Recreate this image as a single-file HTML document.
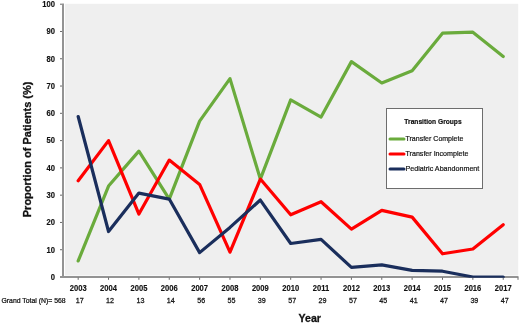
<!DOCTYPE html>
<html><head><meta charset="utf-8"><style>
html,body{margin:0;padding:0;background:#fff;}
body{width:520px;height:323px;overflow:hidden;}
svg{display:block;will-change:transform;}
</style></head><body>
<svg width="520" height="323" viewBox="0 0 520 323">
<rect x="0" y="0" width="520" height="323" fill="#fff"/>
<rect x="65.0" y="3.8" width="453.20000000000005" height="271.7" fill="#efefef"/>

<line x1="63" y1="3.5" x2="63" y2="277.8" stroke="#939393" stroke-width="2"/>
<line x1="60" y1="277.00" x2="62" y2="277.00" stroke="#6a6a6a" stroke-width="1"/>
<text transform="translate(55.00,279.80) scale(0.930,1)" text-anchor="end" font-family="'Liberation Sans', sans-serif" font-size="8.2" font-weight="bold" fill="#111" stroke="#111" stroke-width="0.15">0</text>
<line x1="60" y1="249.72" x2="62" y2="249.72" stroke="#6a6a6a" stroke-width="1"/>
<text transform="translate(55.00,252.52) scale(0.930,1)" text-anchor="end" font-family="'Liberation Sans', sans-serif" font-size="8.2" font-weight="bold" fill="#111" stroke="#111" stroke-width="0.15">10</text>
<line x1="60" y1="222.44" x2="62" y2="222.44" stroke="#6a6a6a" stroke-width="1"/>
<text transform="translate(55.00,225.24) scale(0.930,1)" text-anchor="end" font-family="'Liberation Sans', sans-serif" font-size="8.2" font-weight="bold" fill="#111" stroke="#111" stroke-width="0.15">20</text>
<line x1="60" y1="195.16" x2="62" y2="195.16" stroke="#6a6a6a" stroke-width="1"/>
<text transform="translate(55.00,197.96) scale(0.930,1)" text-anchor="end" font-family="'Liberation Sans', sans-serif" font-size="8.2" font-weight="bold" fill="#111" stroke="#111" stroke-width="0.15">30</text>
<line x1="60" y1="167.88" x2="62" y2="167.88" stroke="#6a6a6a" stroke-width="1"/>
<text transform="translate(55.00,170.68) scale(0.930,1)" text-anchor="end" font-family="'Liberation Sans', sans-serif" font-size="8.2" font-weight="bold" fill="#111" stroke="#111" stroke-width="0.15">40</text>
<line x1="60" y1="140.60" x2="62" y2="140.60" stroke="#6a6a6a" stroke-width="1"/>
<text transform="translate(55.00,143.40) scale(0.930,1)" text-anchor="end" font-family="'Liberation Sans', sans-serif" font-size="8.2" font-weight="bold" fill="#111" stroke="#111" stroke-width="0.15">50</text>
<line x1="60" y1="113.32" x2="62" y2="113.32" stroke="#6a6a6a" stroke-width="1"/>
<text transform="translate(55.00,116.12) scale(0.930,1)" text-anchor="end" font-family="'Liberation Sans', sans-serif" font-size="8.2" font-weight="bold" fill="#111" stroke="#111" stroke-width="0.15">60</text>
<line x1="60" y1="86.04" x2="62" y2="86.04" stroke="#6a6a6a" stroke-width="1"/>
<text transform="translate(55.00,88.84) scale(0.930,1)" text-anchor="end" font-family="'Liberation Sans', sans-serif" font-size="8.2" font-weight="bold" fill="#111" stroke="#111" stroke-width="0.15">70</text>
<line x1="60" y1="58.76" x2="62" y2="58.76" stroke="#6a6a6a" stroke-width="1"/>
<text transform="translate(55.00,61.56) scale(0.930,1)" text-anchor="end" font-family="'Liberation Sans', sans-serif" font-size="8.2" font-weight="bold" fill="#111" stroke="#111" stroke-width="0.15">80</text>
<line x1="60" y1="31.48" x2="62" y2="31.48" stroke="#6a6a6a" stroke-width="1"/>
<text transform="translate(55.00,34.28) scale(0.930,1)" text-anchor="end" font-family="'Liberation Sans', sans-serif" font-size="8.2" font-weight="bold" fill="#111" stroke="#111" stroke-width="0.15">90</text>
<line x1="60" y1="4.20" x2="62" y2="4.20" stroke="#6a6a6a" stroke-width="1"/>
<text transform="translate(55.00,7.00) scale(0.930,1)" text-anchor="end" font-family="'Liberation Sans', sans-serif" font-size="8.2" font-weight="bold" fill="#111" stroke="#111" stroke-width="0.15">100</text>
<line x1="60" y1="277" x2="518.5" y2="277" stroke="#939393" stroke-width="2"/>
<line x1="78.18" y1="277.5" x2="78.18" y2="279.8" stroke="#6a6a6a" stroke-width="1"/>
<text transform="translate(78.18,291.00) scale(0.884,1)" text-anchor="middle" font-family="'Liberation Sans', sans-serif" font-size="8.6" font-weight="bold" fill="#111" stroke="#111" stroke-width="0.15">2003</text>
<text transform="translate(79.68,302.70) scale(0.920,1)" text-anchor="middle" font-family="'Liberation Sans', sans-serif" font-size="7.8" fill="#111" stroke="#111" stroke-width="0.25">17</text>
<line x1="108.54" y1="277.5" x2="108.54" y2="279.8" stroke="#6a6a6a" stroke-width="1"/>
<text transform="translate(108.54,291.00) scale(0.884,1)" text-anchor="middle" font-family="'Liberation Sans', sans-serif" font-size="8.6" font-weight="bold" fill="#111" stroke="#111" stroke-width="0.15">2004</text>
<text transform="translate(110.04,302.70) scale(0.920,1)" text-anchor="middle" font-family="'Liberation Sans', sans-serif" font-size="7.8" fill="#111" stroke="#111" stroke-width="0.25">12</text>
<line x1="138.90" y1="277.5" x2="138.90" y2="279.8" stroke="#6a6a6a" stroke-width="1"/>
<text transform="translate(138.90,291.00) scale(0.884,1)" text-anchor="middle" font-family="'Liberation Sans', sans-serif" font-size="8.6" font-weight="bold" fill="#111" stroke="#111" stroke-width="0.15">2005</text>
<text transform="translate(140.40,302.70) scale(0.920,1)" text-anchor="middle" font-family="'Liberation Sans', sans-serif" font-size="7.8" fill="#111" stroke="#111" stroke-width="0.25">13</text>
<line x1="169.26" y1="277.5" x2="169.26" y2="279.8" stroke="#6a6a6a" stroke-width="1"/>
<text transform="translate(169.26,291.00) scale(0.884,1)" text-anchor="middle" font-family="'Liberation Sans', sans-serif" font-size="8.6" font-weight="bold" fill="#111" stroke="#111" stroke-width="0.15">2006</text>
<text transform="translate(170.76,302.70) scale(0.920,1)" text-anchor="middle" font-family="'Liberation Sans', sans-serif" font-size="7.8" fill="#111" stroke="#111" stroke-width="0.25">14</text>
<line x1="199.62" y1="277.5" x2="199.62" y2="279.8" stroke="#6a6a6a" stroke-width="1"/>
<text transform="translate(199.62,291.00) scale(0.884,1)" text-anchor="middle" font-family="'Liberation Sans', sans-serif" font-size="8.6" font-weight="bold" fill="#111" stroke="#111" stroke-width="0.15">2007</text>
<text transform="translate(201.12,302.70) scale(0.920,1)" text-anchor="middle" font-family="'Liberation Sans', sans-serif" font-size="7.8" fill="#111" stroke="#111" stroke-width="0.25">56</text>
<line x1="229.98" y1="277.5" x2="229.98" y2="279.8" stroke="#6a6a6a" stroke-width="1"/>
<text transform="translate(229.98,291.00) scale(0.884,1)" text-anchor="middle" font-family="'Liberation Sans', sans-serif" font-size="8.6" font-weight="bold" fill="#111" stroke="#111" stroke-width="0.15">2008</text>
<text transform="translate(231.48,302.70) scale(0.920,1)" text-anchor="middle" font-family="'Liberation Sans', sans-serif" font-size="7.8" fill="#111" stroke="#111" stroke-width="0.25">55</text>
<line x1="260.34" y1="277.5" x2="260.34" y2="279.8" stroke="#6a6a6a" stroke-width="1"/>
<text transform="translate(260.34,291.00) scale(0.884,1)" text-anchor="middle" font-family="'Liberation Sans', sans-serif" font-size="8.6" font-weight="bold" fill="#111" stroke="#111" stroke-width="0.15">2009</text>
<text transform="translate(261.84,302.70) scale(0.920,1)" text-anchor="middle" font-family="'Liberation Sans', sans-serif" font-size="7.8" fill="#111" stroke="#111" stroke-width="0.25">39</text>
<line x1="290.70" y1="277.5" x2="290.70" y2="279.8" stroke="#6a6a6a" stroke-width="1"/>
<text transform="translate(290.70,291.00) scale(0.884,1)" text-anchor="middle" font-family="'Liberation Sans', sans-serif" font-size="8.6" font-weight="bold" fill="#111" stroke="#111" stroke-width="0.15">2010</text>
<text transform="translate(292.20,302.70) scale(0.920,1)" text-anchor="middle" font-family="'Liberation Sans', sans-serif" font-size="7.8" fill="#111" stroke="#111" stroke-width="0.25">57</text>
<line x1="321.06" y1="277.5" x2="321.06" y2="279.8" stroke="#6a6a6a" stroke-width="1"/>
<text transform="translate(321.06,291.00) scale(0.884,1)" text-anchor="middle" font-family="'Liberation Sans', sans-serif" font-size="8.6" font-weight="bold" fill="#111" stroke="#111" stroke-width="0.15">2011</text>
<text transform="translate(322.56,302.70) scale(0.920,1)" text-anchor="middle" font-family="'Liberation Sans', sans-serif" font-size="7.8" fill="#111" stroke="#111" stroke-width="0.25">29</text>
<line x1="351.42" y1="277.5" x2="351.42" y2="279.8" stroke="#6a6a6a" stroke-width="1"/>
<text transform="translate(351.42,291.00) scale(0.884,1)" text-anchor="middle" font-family="'Liberation Sans', sans-serif" font-size="8.6" font-weight="bold" fill="#111" stroke="#111" stroke-width="0.15">2012</text>
<text transform="translate(352.92,302.70) scale(0.920,1)" text-anchor="middle" font-family="'Liberation Sans', sans-serif" font-size="7.8" fill="#111" stroke="#111" stroke-width="0.25">57</text>
<line x1="381.78" y1="277.5" x2="381.78" y2="279.8" stroke="#6a6a6a" stroke-width="1"/>
<text transform="translate(381.78,291.00) scale(0.884,1)" text-anchor="middle" font-family="'Liberation Sans', sans-serif" font-size="8.6" font-weight="bold" fill="#111" stroke="#111" stroke-width="0.15">2013</text>
<text transform="translate(383.28,302.70) scale(0.920,1)" text-anchor="middle" font-family="'Liberation Sans', sans-serif" font-size="7.8" fill="#111" stroke="#111" stroke-width="0.25">45</text>
<line x1="412.14" y1="277.5" x2="412.14" y2="279.8" stroke="#6a6a6a" stroke-width="1"/>
<text transform="translate(412.14,291.00) scale(0.884,1)" text-anchor="middle" font-family="'Liberation Sans', sans-serif" font-size="8.6" font-weight="bold" fill="#111" stroke="#111" stroke-width="0.15">2014</text>
<text transform="translate(413.64,302.70) scale(0.920,1)" text-anchor="middle" font-family="'Liberation Sans', sans-serif" font-size="7.8" fill="#111" stroke="#111" stroke-width="0.25">41</text>
<line x1="442.50" y1="277.5" x2="442.50" y2="279.8" stroke="#6a6a6a" stroke-width="1"/>
<text transform="translate(442.50,291.00) scale(0.884,1)" text-anchor="middle" font-family="'Liberation Sans', sans-serif" font-size="8.6" font-weight="bold" fill="#111" stroke="#111" stroke-width="0.15">2015</text>
<text transform="translate(444.00,302.70) scale(0.920,1)" text-anchor="middle" font-family="'Liberation Sans', sans-serif" font-size="7.8" fill="#111" stroke="#111" stroke-width="0.25">47</text>
<line x1="472.86" y1="277.5" x2="472.86" y2="279.8" stroke="#6a6a6a" stroke-width="1"/>
<text transform="translate(472.86,291.00) scale(0.884,1)" text-anchor="middle" font-family="'Liberation Sans', sans-serif" font-size="8.6" font-weight="bold" fill="#111" stroke="#111" stroke-width="0.15">2016</text>
<text transform="translate(474.36,302.70) scale(0.920,1)" text-anchor="middle" font-family="'Liberation Sans', sans-serif" font-size="7.8" fill="#111" stroke="#111" stroke-width="0.25">39</text>
<line x1="503.22" y1="277.5" x2="503.22" y2="279.8" stroke="#6a6a6a" stroke-width="1"/>
<text transform="translate(503.22,291.00) scale(0.884,1)" text-anchor="middle" font-family="'Liberation Sans', sans-serif" font-size="8.6" font-weight="bold" fill="#111" stroke="#111" stroke-width="0.15">2017</text>
<text transform="translate(504.72,302.70) scale(0.920,1)" text-anchor="middle" font-family="'Liberation Sans', sans-serif" font-size="7.8" fill="#111" stroke="#111" stroke-width="0.25">47</text>
<text transform="translate(1.50,302.70) scale(0.930,1)" text-anchor="start" font-family="'Liberation Sans', sans-serif" font-size="7.4" fill="#111" stroke="#111" stroke-width="0.25">Grand Total (N)= 568</text>
<text transform="translate(309.70,321.70) scale(0.900,1)" text-anchor="middle" font-family="'Liberation Sans', sans-serif" font-size="11.8" font-weight="bold" fill="#111" stroke="#111" stroke-width="0.3">Year</text>
<text transform="translate(31.00,149.40) rotate(-90)" text-anchor="middle" font-family="'Liberation Sans', sans-serif" font-size="11" font-weight="bold" fill="#111" stroke="#111" stroke-width="0.3">Proportion of Patients (%)</text>
<line x1="518" y1="277.5" x2="518" y2="279.8" stroke="#6a6a6a" stroke-width="1"/>
<clipPath id="cp"><rect x="0" y="0" width="520" height="277.7"/></clipPath><g clip-path="url(#cp)">
<polyline points="78.18,260.95 108.54,186.07 138.90,151.09 169.26,199.06 199.62,121.11 229.98,78.60 260.34,179.07 290.70,99.92 321.06,117.08 351.42,61.63 381.78,83.01 412.14,70.74 442.50,33.22 472.86,32.18 503.22,56.44" fill="none" stroke="#6aab3c" stroke-width="3.2" stroke-linejoin="round" stroke-linecap="round"/>
<polyline points="78.18,180.72 108.54,140.60 138.90,214.05 169.26,160.09 199.62,184.44 229.98,252.20 260.34,179.07 290.70,214.78 321.06,201.74 351.42,229.14 381.78,210.32 412.14,217.12 442.50,253.78 472.86,249.02 503.22,224.76" fill="none" stroke="#ff0000" stroke-width="3.2" stroke-linejoin="round" stroke-linecap="round"/>
<polyline points="78.18,116.53 108.54,231.53 138.90,193.06 169.26,199.06 199.62,252.64 229.98,227.40 260.34,200.06 290.70,243.50 321.06,239.37 351.42,267.43 381.78,264.88 412.14,270.35 442.50,271.20 472.86,277.00 503.22,277.00" fill="none" stroke="#1a2e5c" stroke-width="3.2" stroke-linejoin="round" stroke-linecap="round"/>
</g>
<rect x="386.5" y="108.5" width="96" height="80" fill="#fff" stroke="#6d6d6d" stroke-width="1"/>
<text transform="translate(433.00,124.30) scale(0.925,1)" text-anchor="middle" font-family="'Liberation Sans', sans-serif" font-size="7.2" font-weight="bold" fill="#111" stroke="#111" stroke-width="0.2">Transition Groups</text>
<line x1="390" y1="139" x2="404" y2="139" stroke="#6aab3c" stroke-width="3" stroke-linecap="round"/>
<text transform="translate(405.50,141.40) scale(0.950,1)" text-anchor="start" font-family="'Liberation Sans', sans-serif" font-size="7.4" fill="#111" stroke="#111" stroke-width="0.2">Transfer Complete</text>
<line x1="390" y1="154" x2="404" y2="154" stroke="#ff0000" stroke-width="3" stroke-linecap="round"/>
<text transform="translate(405.50,156.40) scale(0.960,1)" text-anchor="start" font-family="'Liberation Sans', sans-serif" font-size="7.4" fill="#111" stroke="#111" stroke-width="0.2">Transfer Incomplete</text>
<line x1="390" y1="169" x2="404" y2="169" stroke="#1a2e5c" stroke-width="3" stroke-linecap="round"/>
<text transform="translate(405.50,171.40) scale(0.966,1)" text-anchor="start" font-family="'Liberation Sans', sans-serif" font-size="7.4" fill="#111" stroke="#111" stroke-width="0.2">Pediatric Abandonment</text>
</svg>
</body></html>
